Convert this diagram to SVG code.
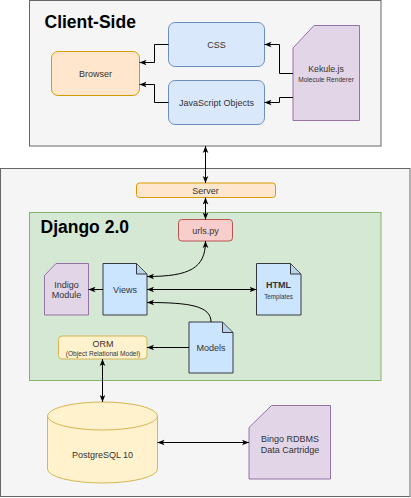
<svg xmlns="http://www.w3.org/2000/svg" width="411" height="498" viewBox="0 0 411 498">
<style>
text{font-family:"Liberation Sans",Arial,sans-serif;fill:#333;text-anchor:middle}
.t{font-size:9px}
.s{font-size:6.6px}
.h{font-size:17.5px;font-weight:bold;fill:#000;text-anchor:start}
.grp{fill:#f5f5f5;stroke:#666}
.orange{fill:#ffe6cc;stroke:#d79b00}
.blue{fill:#dae8fc;stroke:#6c8ebf}
.purple{fill:#e1d5e7;stroke:#9673a6}
.note{fill:#cce5ff;stroke:#36393d}
.fold{fill:#a3b7cc;fill-opacity:0.4;stroke:#36393d}
.c{fill:none;stroke:#000;stroke-width:1}
</style>
<defs>
<marker id="a" viewBox="0 0 10 10" refX="10" refY="5" markerWidth="7" markerHeight="7" markerUnits="userSpaceOnUse" orient="auto-start-reverse">
<path d="M0,1 L10,5 L0,9 L2.5,5 Z" fill="#000"/>
</marker>
</defs>
<g id="client-side">
<rect class="grp" x="29.5" y="0.5" width="351.5" height="145.5"/>
<text class="h" x="44.5" y="27.5">Client-Side</text>
</g>
<g id="server-side">
<rect class="grp" x="0.5" y="168.5" width="409.5" height="328"/>
</g>
<g id="django">
<rect x="29.5" y="212.5" width="351.5" height="168" fill="#d5e8d4" stroke="#82b366"/>
<text class="h" x="40.5" y="232.5">Django 2.0</text>
</g>
<g id="browser">
<rect class="orange" x="51.5" y="51.5" width="88" height="44" rx="6.6"/>
<text class="t" x="95.5" y="76.5">Browser</text>
</g>
<g id="css">
<rect class="blue" x="168.5" y="22.5" width="96" height="44" rx="6.6"/>
<text class="t" x="216.5" y="47.5">CSS</text>
</g>
<g id="js-objects">
<rect class="blue" x="168.5" y="80.5" width="96" height="44" rx="6.6"/>
<text class="t" x="216.5" y="105.5">JavaScript Objects</text>
</g>
<g id="kekule">
<path class="purple" d="M293,48 L314,25.5 L359.5,25.5 L359.5,120.5 L293,120.5 Z"/>
<text x="326" y="72" style="font-size:8.8px">Kekule.js</text>
<text class="s" x="326" y="82">Molecule Renderer</text>
</g>
<g id="server">
<rect class="orange" x="136.5" y="183" width="139" height="14.5" rx="3"/>
<text class="t" x="205.5" y="193.5">Server</text>
</g>
<g id="urls">
<rect x="178.5" y="219.5" width="54" height="21.5" rx="3.2" fill="#f8cecc" stroke="#b85450"/>
<text class="t" x="205.5" y="233.5">urls.py</text>
</g>
<g id="indigo">
<path class="purple" d="M44.5,275.5 L56,263.5 L88.5,263.5 L88.5,315 L44.5,315 Z"/>
<text class="t" x="66.5" y="287.5">Indigo</text>
<text class="t" x="66.5" y="298">Module</text>
</g>
<g id="views">
<path class="note" d="M103,263.5 L136.5,263.5 L147,274 L147,315 L103,315 Z"/>
<path class="fold" d="M136.5,263.5 L136.5,274 L147,274"/>
<text class="t" x="125" y="292.5">Views</text>
</g>
<g id="html-templates">
<path class="note" d="M256.5,263.5 L290.5,263.5 L301,274 L301,315 L256.5,315 Z"/>
<path class="fold" d="M290.5,263.5 L290.5,274 L301,274"/>
<text x="278.5" y="288" style="font-size:9px;font-weight:bold">HTML</text>
<text x="278.5" y="298.5" style="font-size:6.3px">Templates</text>
</g>
<g id="models">
<path class="note" d="M189,322 L222.5,322 L233,332.5 L233,373 L189,373 Z"/>
<path class="fold" d="M222.5,322 L222.5,332.5 L233,332.5"/>
<text class="t" x="211" y="351">Models</text>
</g>
<g id="orm">
<rect x="58.5" y="336" width="88.5" height="23" rx="3.5" fill="#fff2cc" stroke="#d6b656"/>
<text class="t" x="103" y="346.5">ORM</text>
<text class="s" x="103" y="356">(Object Relational Model)</text>
</g>
<g id="postgresql">
<path d="M47.5,416 A55,14 0 0 1 157.5,416 L157.5,469 A55,14 0 0 1 47.5,469 Z" fill="#fff2cc" stroke="#d6b656"/>
<path d="M47.5,416 A55,14 0 0 0 157.5,416" fill="none" stroke="#d6b656"/>
<text class="t" x="102.5" y="457.5">PostgreSQL 10</text>
</g>
<g id="bingo">
<path class="purple" d="M249,427.5 L271.5,405.5 L330.5,405.5 L330.5,479 L249,479 Z"/>
<text class="t" x="290" y="441.5">Bingo RDBMS</text>
<text class="t" x="290" y="452.5">Data Cartridge</text>
</g>
<g id="connectors">
<path class="c" d="M168.5,44.5 H154.5 V62.5 H139.5" marker-end="url(#a)"/>
<path class="c" d="M168.5,102.5 H154.5 V84.5 H139.5" marker-end="url(#a)"/>
<path class="c" d="M293,73.5 H279.5 V44.5 H264.5" marker-end="url(#a)"/>
<path class="c" d="M293,97.5 H279.5 V102.5 H264.5" marker-end="url(#a)"/>
<path class="c" d="M205.5,146 V183" marker-start="url(#a)" marker-end="url(#a)"/>
<path class="c" d="M205.5,197.5 V219.5" marker-start="url(#a)" marker-end="url(#a)"/>
<path class="c" d="M205.5,241 C205.5,268 190,276.5 147,276.5" marker-start="url(#a)" marker-end="url(#a)"/>
<path class="c" d="M103,289.5 H88.5" marker-end="url(#a)"/>
<path class="c" d="M147,289.5 H256.5" marker-start="url(#a)" marker-end="url(#a)"/>
<path class="c" d="M211,322 C211,306 190,302.5 147,302.5" marker-end="url(#a)"/>
<path class="c" d="M189,347.5 H147" marker-end="url(#a)"/>
<path class="c" d="M102.5,359 V402" marker-start="url(#a)" marker-end="url(#a)"/>
<path class="c" d="M157.5,442.5 H249" marker-start="url(#a)" marker-end="url(#a)"/>
</g>
</svg>
